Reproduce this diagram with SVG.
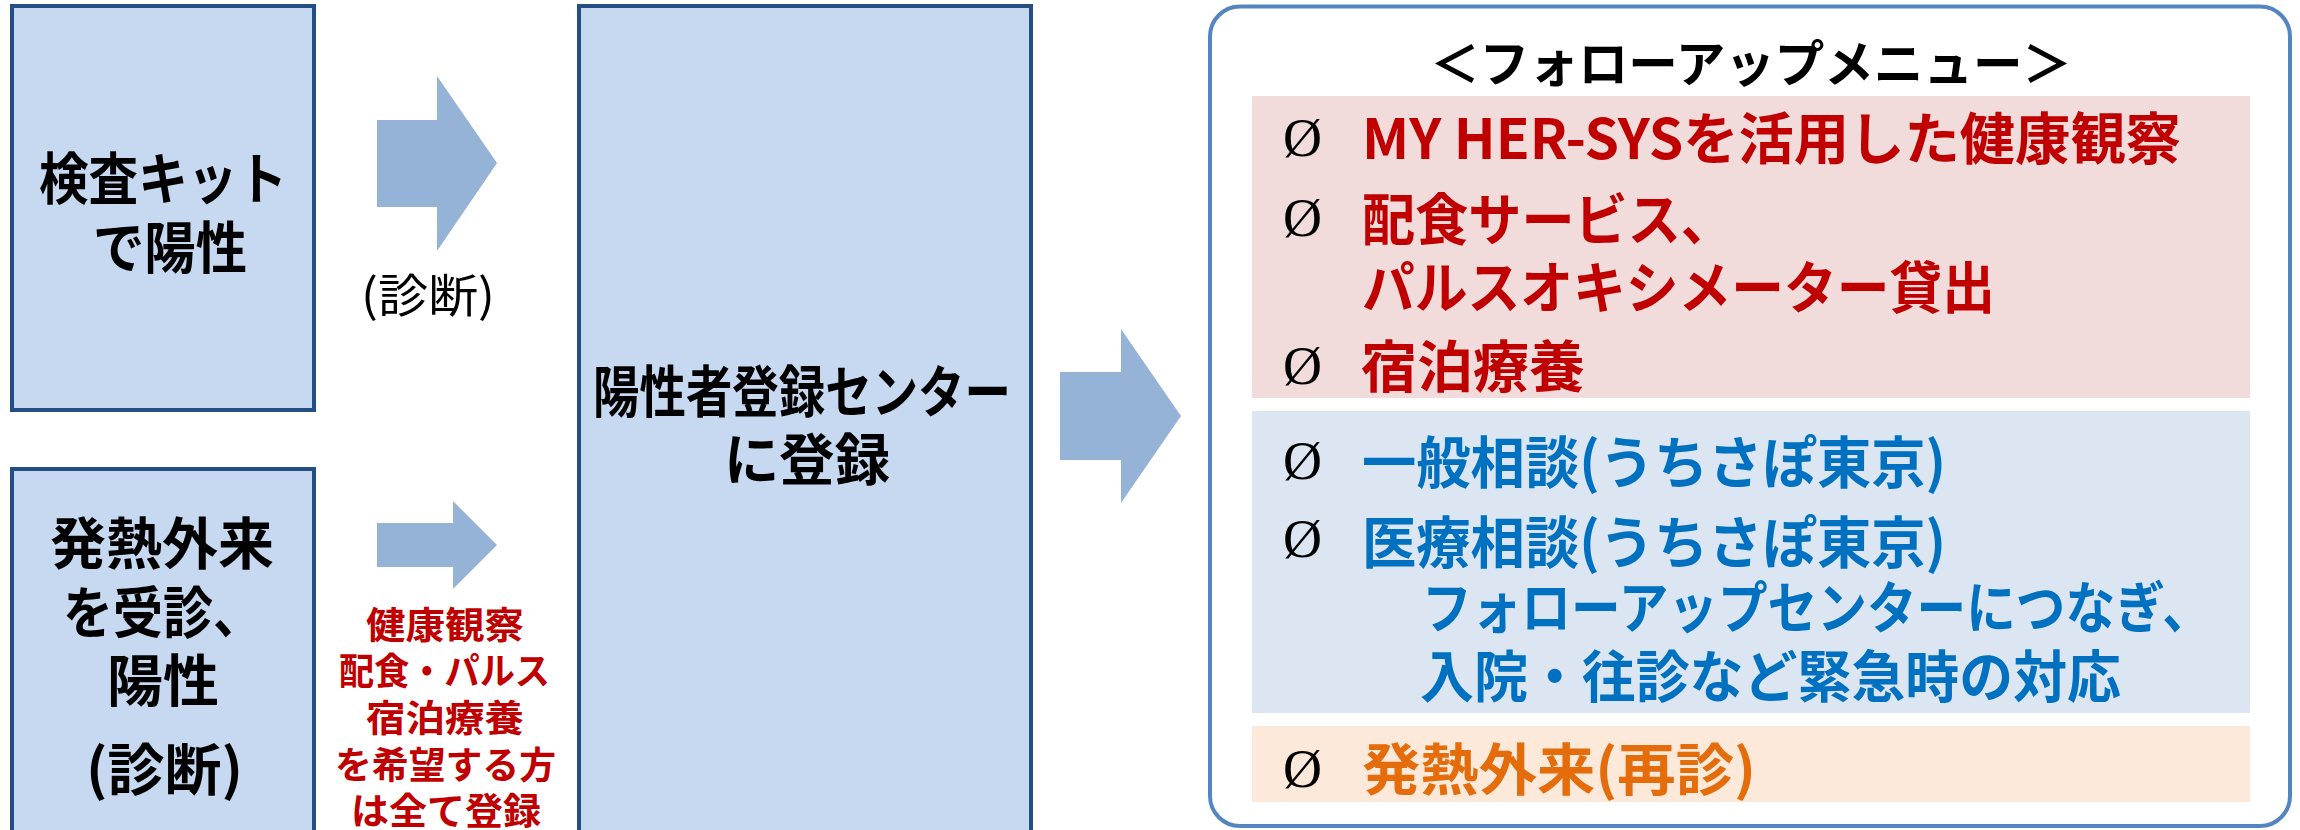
<svg xmlns="http://www.w3.org/2000/svg" width="2300" height="830" viewBox="0 0 2300 830">
<style>
.box{fill:#C6D9F1;stroke:#254E82;stroke-width:4}
.arr{fill:#95B3D7}
.t{font-family:"Noto Sans CJK JP","Noto Sans",sans-serif;font-weight:700}
.blk{fill:#000}
.red{fill:#C00000}
.blu{fill:#0070C0}
.org{fill:#E46C0A}
.sym{font-family:"Liberation Serif",serif;font-size:54px;fill:#000}
</style>
<rect width="2300" height="830" fill="#FFFFFF"/>
<g id="node-kit">
<rect class="box" x="12" y="6" width="302" height="404"/>
<text class="t blk" font-size="56" x="39" y="199" textLength="248" lengthAdjust="spacingAndGlyphs">検査キット</text>
<text class="t blk" font-size="56" x="93" y="268" textLength="154" lengthAdjust="spacingAndGlyphs">で陽性</text>
</g>
<g id="node-fever">
<rect class="box" x="12" y="469" width="302" height="380"/>
<text class="t blk" font-size="56" x="50" y="564">発熱外来</text>
<text class="t blk" font-size="56" x="63" y="633" textLength="200" lengthAdjust="spacingAndGlyphs">を受診、</text>
<text class="t blk" font-size="56" x="107" y="701">陽性</text>
<text class="t blk" font-size="56" x="86" y="790" textLength="157" lengthAdjust="spacingAndGlyphs">(診断)</text>
</g>
<g id="node-center">
<rect class="box" x="579" y="6" width="452" height="850"/>
<text class="t blk" font-size="56" x="593" y="412" textLength="418" lengthAdjust="spacingAndGlyphs">陽性者登録センター</text>
<text class="t blk" font-size="56" x="724" y="480" textLength="166" lengthAdjust="spacingAndGlyphs">に登録</text>
</g>
<g id="connectors">
<polygon class="arr" points="377,120 437,120 437,76 497,163 437,251 437,207 377,207"/>
<polygon class="arr" points="377,523 453,523 453,501 497,545 453,589 453,567 377,567"/>
<polygon class="arr" points="1060,372 1121,372 1121,329 1181,416 1121,503 1121,460 1060,460"/>
<text font-family="Noto Sans CJK JP, Noto Sans, sans-serif" font-size="46" fill="#000" x="361" y="312" textLength="134" lengthAdjust="spacingAndGlyphs">(診断)</text>
<text class="t red" font-size="37" x="366" y="639" textLength="158" lengthAdjust="spacingAndGlyphs">健康観察</text>
<text class="t red" font-size="37" x="339" y="685" textLength="211" lengthAdjust="spacingAndGlyphs">配食・パルス</text>
<text class="t red" font-size="37" x="366" y="732" textLength="158" lengthAdjust="spacingAndGlyphs">宿泊療養</text>
<text class="t red" font-size="37" x="335" y="779" textLength="221" lengthAdjust="spacingAndGlyphs">を希望する方</text>
<text class="t red" font-size="37" x="351" y="825" textLength="190" lengthAdjust="spacingAndGlyphs">は全て登録</text>
</g>
<g id="node-menu">
<rect x="1210" y="6.5" width="1080" height="819.5" rx="30" ry="30" fill="#FFFFFF" stroke="#5585C0" stroke-width="4"/>
<text class="t blk" font-size="50" x="1430" y="82" textLength="642" lengthAdjust="spacingAndGlyphs">＜フォローアップメニュー＞</text>
<rect x="1252" y="96" width="998" height="302" fill="#F2DCDB"/>
<rect x="1252" y="411" width="998" height="302" fill="#DCE6F2"/>
<rect x="1252" y="726" width="998" height="76" fill="#FDE9D9"/>
<text class="sym" x="1283" y="156">Ø</text>
<text class="sym" x="1283" y="236">Ø</text>
<text class="sym" x="1283" y="384">Ø</text>
<text class="sym" x="1283" y="479">Ø</text>
<text class="sym" x="1283" y="557">Ø</text>
<text class="sym" x="1283" y="787">Ø</text>
<text class="t red" font-size="56" x="1362" y="159" textLength="819" lengthAdjust="spacingAndGlyphs">MY HER-SYSを活用した健康観察</text>
<text class="t red" font-size="56" x="1362" y="240" textLength="372" lengthAdjust="spacingAndGlyphs">配食サービス、</text>
<text class="t red" font-size="56" x="1362" y="308" textLength="633" lengthAdjust="spacingAndGlyphs">パルスオキシメーター貸出</text>
<text class="t red" font-size="56" x="1361" y="387">宿泊療養</text>
<text class="t blu" font-size="56" x="1362" y="483" textLength="584" lengthAdjust="spacingAndGlyphs">一般相談(うちさぽ東京)</text>
<text class="t blu" font-size="56" x="1362" y="563" textLength="584" lengthAdjust="spacingAndGlyphs">医療相談(うちさぽ東京)</text>
<text class="t blu" font-size="56" x="1422" y="628" textLength="790" lengthAdjust="spacingAndGlyphs">フォローアップセンターにつなぎ、</text>
<text class="t blu" font-size="56" x="1420" y="697" textLength="701" lengthAdjust="spacingAndGlyphs">入院・往診など緊急時の対応</text>
<text class="t org" font-size="56" x="1362" y="790" textLength="394" lengthAdjust="spacingAndGlyphs">発熱外来(再診)</text>
</g>
</svg>
